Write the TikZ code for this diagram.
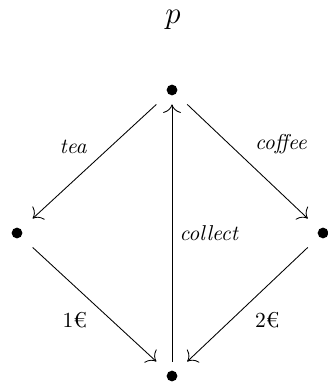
\documentclass[tikz,border=0pt]{standalone}
\usepackage{amsmath}
\usepackage{tikz}
\usetikzlibrary{arrows.meta}

\begin{document}
\begin{tikzpicture}[x=0.465pt, y=-0.465pt, >={To[scale=1.6]},
    state/.style={rectangle, inner sep=0pt, minimum width=16pt, minimum height=13pt}]
  \useasboundingbox (0,0) rectangle (327,382);

  % Ten may
  \node (title) at (173,20) {\Large $p$};

  % Cac trang thai
  \node[state] (init) at (172,90) {};
  \node[state] (tea) at (17,233) {};
  \node[state] (coffee) at (323,233) {};
  \node[state] (paid) at (172,376) {};
  \foreach \s in {init, tea, coffee, paid}
    \fill (\s) circle (2.5pt);

  % Cac chuyen trang thai
  \draw[->] (init) -- (tea) node[midway, above left] {\textit{tea}};
  \draw[->] (init) -- (coffee) node[midway, above right] {\textit{coffee}};
  \draw[->] (tea) -- (paid) node[midway, below left] {1€};
  \draw[->] (coffee) -- (paid) node[midway, below right] {2€};
  \draw[->] (paid) -- (init) node[midway, right] {\textit{collect}};
\end{tikzpicture}
\end{document}
